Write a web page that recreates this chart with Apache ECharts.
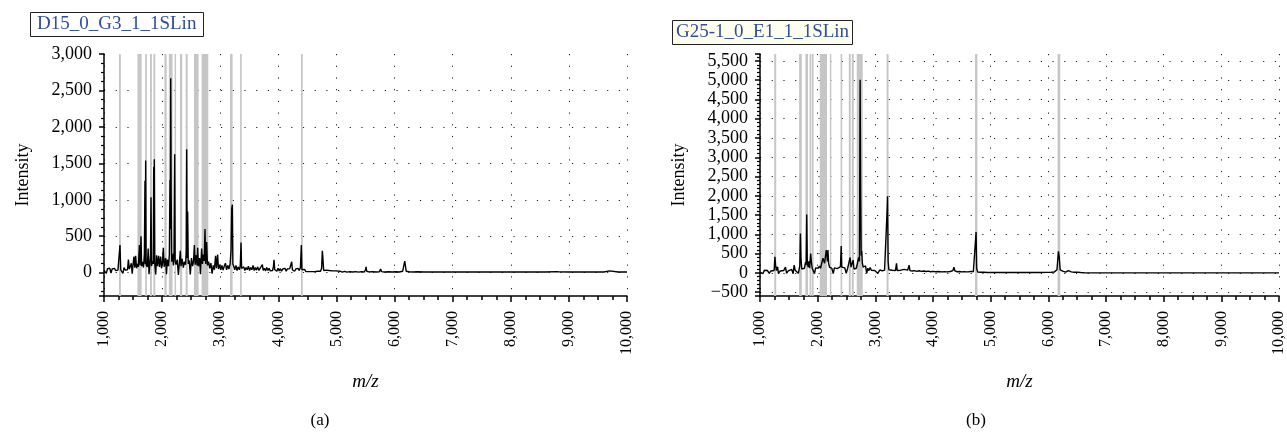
<!DOCTYPE html>
<html>
<head>
<meta charset="utf-8">
<script src="https://cdn.jsdelivr.net/npm/echarts@6/dist/echarts.min.js"></script>
<style>
  html, body { margin: 0; padding: 0; background: #fff; }
  #main { width: 1287px; height: 434px; }
</style>
</head>
<body>
<div id="main"></div>
<script>
// spectrum (a): [m/z, intensity]
var specA = [
  [1000,30],[1020,50],[1040,-10],[1060,55],[1080,30],[1100,60],[1120,-5],[1140,50],[1160,35],[1180,60],
  [1200,30],[1220,55],[1240,35],[1260,50],[1275,380],[1288,40],[1305,60],[1325,-10],[1345,70],[1365,35],
  [1385,60],[1405,40],[1420,180],[1435,50],[1455,90],[1470,130],[1485,-15],[1500,110],[1515,220],[1530,70],
  [1545,230],[1560,60],[1575,120],[1590,80],[1600,230],[1610,380],[1620,100],[1637,500],[1648,90],[1665,150],
  [1680,70],[1695,260],[1705,1260],[1711,120],[1717,1540],[1725,110],[1745,80],[1760,330],[1775,-20],[1790,130],
  [1800,240],[1809,1035],[1818,90],[1835,160],[1848,120],[1855,1450],[1860,140],[1866,1555],[1874,120],[1890,-25],
  [1905,240],[1920,90],[1940,230],[1955,80],[1975,220],[1990,60],[2005,120],[2021,340],[2035,80],[2050,150],
  [2061,200],[2075,-20],[2090,180],[2110,90],[2125,250],[2136,1270],[2142,600],[2148,2668],[2155,1160],[2165,150],
  [2180,260],[2195,100],[2205,300],[2216,1623],[2225,150],[2240,110],[2260,180],[2280,-30],[2300,160],[2313,300],
  [2325,90],[2345,190],[2365,70],[2385,150],[2405,110],[2415,300],[2423,1693],[2431,200],[2440,840],[2450,120],
  [2465,170],[2485,-25],[2505,200],[2525,90],[2540,150],[2555,380],[2570,110],[2590,240],[2602,100],[2612,340],
  [2625,90],[2645,200],[2660,-20],[2680,330],[2695,120],[2710,250],[2725,160],[2738,600],[2750,120],[2767,420],
  [2780,100],[2800,150],[2820,60],[2840,130],[2860,-15],[2880,100],[2900,40],[2920,230],[2935,60],[2955,250],
  [2970,50],[2990,110],[3010,40],[3030,100],[3050,35],[3070,90],[3090,130],[3110,40],[3130,100],[3150,50],
  [3170,120],[3186,300],[3198,880],[3209,934],[3218,120],[3235,80],[3250,40],[3270,100],[3290,30],[3310,80],
  [3330,40],[3345,90],[3358,414],[3368,60],[3385,40],[3405,80],[3425,30],[3445,70],[3465,40],[3485,90],
  [3505,30],[3525,70],[3545,40],[3565,100],[3585,30],[3605,70],[3625,35],[3645,80],[3665,30],[3685,60],
  [3705,40],[3725,110],[3740,30],[3760,60],[3780,25],[3800,70],[3820,30],[3840,60],[3860,25],[3880,50],
  [3900,30],[3915,80],[3926,175],[3938,40],[3955,55],[3975,20],[3995,60],[4015,25],[4035,55],[4055,20],
  [4075,50],[4095,25],[4115,60],[4135,20],[4155,50],[4175,25],[4195,55],[4215,30],[4230,150],[4242,40],
  [4260,55],[4280,20],[4300,50],[4320,25],[4340,60],[4360,30],[4380,70],[4396,380],[4406,40],[4425,25],
  [4450,45],[4475,15],[4500,40],[4525,15],[4550,35],[4575,15],[4600,40],[4625,15],[4650,35],[4675,20],
  [4700,40],[4725,20],[4745,60],[4757,300],[4767,200],[4780,30],[4800,15],[4825,35],[4850,10],[4875,30],
  [4900,10],[4930,25],[4960,10],[4990,25],[5020,10],[5060,20],[5100,8],[5140,18],[5180,8],[5230,15],
  [5280,10],[5330,15],[5380,8],[5430,15],[5480,10],[5500,40],[5510,80],[5520,20],[5560,10],[5620,15],
  [5680,10],[5740,12],[5760,50],[5775,15],[5830,10],[5900,12],[5960,10],[6020,12],[6080,10],[6140,20],
  [6175,160],[6188,90],[6200,20],[6250,12],[6320,10],[6400,12],[6500,10],[6600,10],[6700,10],[6800,10],
  [6900,10],[7000,10],[7200,10],[7400,10],[7600,10],[7800,10],[8000,10],[8200,10],[8400,10],[8600,10],
  [8780,15],[8800,40],[8815,12],[9000,10],[9200,10],[9400,10],[9600,10],[9700,25],[9720,10],[9850,10],
  [10000,10]
];

// spectrum (b)
var specB = [
  [1000,20],[1025,60],[1050,-20],[1075,70],[1100,25],[1130,60],[1160,-10],[1190,50],[1220,35],[1245,60],
  [1259,415],[1270,200],[1285,60],[1305,160],[1320,-20],[1350,50],[1380,30],[1410,60],[1443,150],[1460,-10],
  [1490,50],[1520,40],[1550,90],[1575,-20],[1592,200],[1610,70],[1640,110],[1665,-10],[1690,180],[1701,1020],
  [1710,380],[1725,100],[1745,150],[1770,120],[1790,280],[1800,200],[1810,1513],[1820,280],[1835,150],[1845,300],
  [1860,120],[1879,500],[1890,300],[1905,120],[1925,160],[1945,-20],[1965,130],[1990,80],[2010,120],[2030,180],
  [2050,120],[2070,250],[2092,380],[2105,320],[2120,250],[2135,300],[2149,590],[2160,450],[2170,300],[2178,590],
  [2190,250],[2205,150],[2225,200],[2245,120],[2270,-20],[2290,130],[2315,90],[2340,110],[2370,100],[2395,160],
  [2408,700],[2418,150],[2445,100],[2470,130],[2495,-10],[2520,120],[2545,150],[2563,400],[2578,150],[2600,120],
  [2615,330],[2630,100],[2650,150],[2670,120],[2690,250],[2710,400],[2725,300],[2736,5010],[2745,2200],[2755,450],
  [2764,570],[2775,250],[2790,150],[2810,100],[2830,180],[2850,-10],[2870,120],[2890,60],[2910,140],[2930,70],
  [2960,100],[2990,60],[3010,90],[3040,-10],[3080,80],[3120,50],[3160,70],[3190,100],[3205,1650],[3212,1987],
  [3222,300],[3235,80],[3260,60],[3290,70],[3320,50],[3350,60],[3367,250],[3380,60],[3410,50],[3440,70],
  [3470,60],[3500,90],[3530,60],[3560,70],[3586,200],[3600,60],[3640,50],[3680,60],[3720,40],[3760,55],
  [3800,40],[3840,50],[3880,35],[3920,45],[3960,30],[4000,40],[4050,30],[4100,35],[4150,25],[4200,30],
  [4250,25],[4300,35],[4345,60],[4362,150],[4380,50],[4420,30],[4460,35],[4500,25],[4540,30],[4580,25],
  [4620,30],[4660,40],[4700,30],[4730,60],[4747,1062],[4757,120],[4775,20],[4820,15],[4880,15],[4950,10],
  [5050,10],[5150,10],[5250,12],[5350,10],[5450,10],[5550,10],[5650,12],[5750,10],[5850,10],[5950,12],
  [6050,15],[6100,20],[6130,30],[6150,80],[6175,560],[6190,400],[6205,80],[6230,30],[6260,40],[6300,20],
  [6345,60],[6360,20],[6400,25],[6450,15],[6500,20],[6560,10],[6620,5],[6700,0],[8000,0],[10000,0]
];

// grey marker bands (m/z from..to)
var bandsA = [
  [1258,1290],[1575,1648],[1708,1738],[1792,1824],[1850,1882],[2040,2078],[2116,2180],[2215,2240],
  [2308,2346],[2405,2440],[2549,2628],[2680,2795],[3169,3213],[3342,3370],[4390,4420]
];
var bandsB = [
  [1247,1281],[1678,1724],[1788,1833],[1860,1890],[1900,1930],[2036,2162],[2212,2236],[2397,2426],
  [2540,2574],[2592,2626],[2678,2781],[3195,3229],[4729,4770],[6160,6207]
];

var titleA = 'D15_0_G3_1_1SLin';
var titleB = 'G25-1_0_E1_1_1SLin';

var serif = 'Liberation Serif';

function fmt(v) {
  var s = String(Math.abs(v)).replace(/\B(?=(\d{3})+(?!\d))/g, ',');
  return v < 0 ? '\u2212' + s : s;
}

function xAxisCfg(idx) {
  return {
    type: 'value',
    gridIndex: idx,
    min: 1000,
    max: 10000,
    interval: 1000,
    name: 'm/z',
    nameLocation: 'middle',
    nameGap: 76,
    nameTextStyle: { fontFamily: serif, fontSize: 19, fontStyle: 'italic', color: '#000' },
    axisLine: { show: true, onZero: false, lineStyle: { color: '#000', width: 1.5 } },
    axisTick: { show: true, length: 6, lineStyle: { color: '#000', width: 1.5 } },
    minorTick: { show: true, splitNumber: 4, length: 4, lineStyle: { color: '#000', width: 1.5 } },
    axisLabel: {
      rotate: 90, margin: 15, fontFamily: serif, fontSize: 16, color: '#000',
      formatter: fmt
    },
    splitLine: { show: true, lineStyle: { color: '#222', width: 1, type: [1.2, 10.5] } }
  };
}

function yAxisCfg(idx, min, max, split, minor) {
  return {
    type: 'value',
    gridIndex: idx,
    min: min,
    max: max,
    splitNumber: split,
    name: 'Intensity',
    nameLocation: 'middle',
    nameGap: 72,
    nameRotate: 90,
    nameTextStyle: { fontFamily: serif, fontSize: 18, color: '#000' },
    axisLine: { show: true, onZero: false, lineStyle: { color: '#000', width: 1.5 } },
    axisTick: { show: true, length: 5, lineStyle: { color: '#000', width: 1.5 } },
    minorTick: { show: true, splitNumber: minor, length: 3, lineStyle: { color: '#000', width: 1.2 } },
    axisLabel: {
      margin: 12, fontFamily: serif, fontSize: 18, color: '#000',
      showMinLabel: false, showMaxLabel: idx === 0,
      formatter: fmt
    },
    splitLine: {
      show: true, showMinLine: false, showMaxLine: false,
      lineStyle: { color: '#222', width: 1, type: [1.2, 10.5] }
    }
  };
}

function bandData(bands) {
  return bands.map(function (b) { return [{ xAxis: b[0] }, { xAxis: b[1] }]; });
}

function specSeries(idx, data, bands) {
  return {
    type: 'line',
    xAxisIndex: idx,
    yAxisIndex: idx,
    data: data,
    showSymbol: false,
    symbol: 'none',
    sampling: null,
    lineStyle: { color: '#000', width: 1.4 },
    z: 3,
    markArea: {
      silent: true,
      itemStyle: { color: '#c6c6c6' },
      data: bandData(bands)
    }
  };
}

var chart = echarts.init(document.getElementById('main'), null, { renderer: 'canvas' });

var option = {
  animation: false,
  backgroundColor: '#fff',
  title: [
    {
      text: titleA, left: 30, top: 12,
      padding: [2, 7, 2, 7],
      borderColor: '#222', borderWidth: 1, backgroundColor: '#fff',
      textStyle: { fontFamily: serif, fontSize: 19, fontWeight: 'normal', color: '#2d4f9e', lineHeight: 21 }
    },
    {
      text: titleB, left: 672, top: 20,
      padding: [2, 4, 2, 4],
      borderColor: '#222', borderWidth: 1, backgroundColor: '#fffff0',
      textStyle: { fontFamily: serif, fontSize: 19, fontWeight: 'normal', color: '#2d4f9e', lineHeight: 21 }
    },
    {
      text: '(a)', left: 320, top: 412, textAlign: 'center', padding: 0,
      textStyle: { fontFamily: serif, fontSize: 17, fontWeight: 'normal', color: '#000' }
    },
    {
      text: '(b)', left: 976, top: 412, textAlign: 'center', padding: 0,
      textStyle: { fontFamily: serif, fontSize: 17, fontWeight: 'normal', color: '#000' }
    }
  ],
  grid: [
    { left: 104, top: 54, width: 523, height: 242 },
    { left: 760, top: 54, width: 522, height: 242 }
  ],
  xAxis: [xAxisCfg(0), xAxisCfg(1)],
  yAxis: [
    yAxisCfg(0, -320, 3000, 7, 4),
    yAxisCfg(1, -600, 5680, 12, 5)
  ],
  series: [
    specSeries(0, specA, bandsA),
    specSeries(1, specB, bandsB)
  ]
};

chart.setOption(option);
</script>
</body>
</html>
